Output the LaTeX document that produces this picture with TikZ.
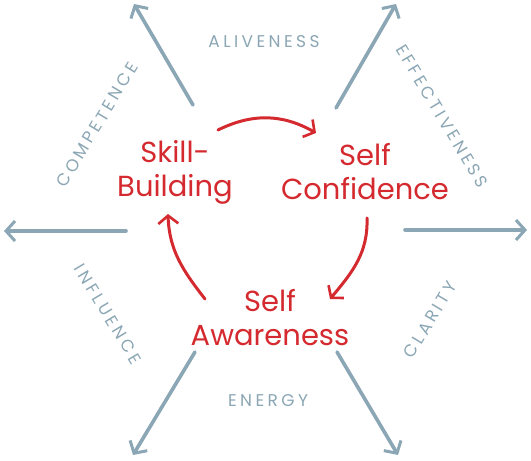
\documentclass[tikz,border=0pt]{standalone}
\usepackage{fontspec}
\setmainfont{Poppins}
\newfontfamily\labelfont[LetterSpace=20]{Poppins}
\usetikzlibrary{arrows.meta}
\definecolor{slate}{HTML}{8BA6B4}
\definecolor{cred}{HTML}{D42A2F}
\tikzset{
  ray/.style={draw=slate, line width=3.6pt, line cap=round, -{Straight Barb[length=9pt,width=20pt,line width=3pt]}},
  cycle/.style={draw=cred, line width=3pt, line cap=round, -{Straight Barb[length=8pt,width=20pt,line width=2.6pt]}},
  quality/.style={text=slate, font=\labelfont\fontsize{17}{17}\selectfont, inner sep=0pt},
  stage/.style={text=cred, font=\fontsize{29}{34}\selectfont, align=center, inner sep=0pt}
}
\begin{document}
\begin{tikzpicture}[x=1pt,y=1pt]
\useasboundingbox (0,0) rectangle (531,461);
% rays
\coordinate (ul0) at (193,356); \coordinate (ul1) at (134,457);
\coordinate (ur0) at (336,353); \coordinate (ur1) at (396,457);
\coordinate (l0) at (126,230);  \coordinate (l1) at (4,230);
\coordinate (r0) at (405,231);  \coordinate (r1) at (527,231);
\coordinate (dl0) at (195,109); \coordinate (dl1) at (133,6);
\coordinate (dr0) at (337,109); \coordinate (dr1) at (398,6);
\draw[ray] (ul0) -- (ul1);
\draw[ray] (ur0) -- (ur1);
\draw[ray] (l0) -- (l1);
\draw[ray] (r0) -- (r1);
\draw[ray] (dl0) -- (dl1);
\draw[ray] (dr0) -- (dr1);
% qualities
\node[quality] (alive) at (264,419) {ALIVENESS};
\node[quality, rotate=-59] (effect) at (442,345) {EFFECTIVENESS};
\node[quality, rotate=59] (compet) at (97,336) {COMPETENCE};
\node[quality, rotate=-59] (influ) at (108,147) {INFLUENCE};
\node[quality, rotate=59] (clar) at (430,141) {CLARITY};
\node[quality] (energy) at (268,60) {ENERGY};
% stages
\node[stage] (skill) at (175,289) {Skill-\\Building};
\node[stage] (conf) at (365,289) {Self\\Confidence};
\node[stage] (aware) at (270,143) {Self\\Awareness};
% cycle arrows
\coordinate (t0) at (218,331); \coordinate (t1) at (316,328);
\coordinate (rr0) at (367,243); \coordinate (rr1) at (330,162);
\coordinate (ll0) at (205,162); \coordinate (ll1) at (168,247);
\draw[cycle] (t0) to[bend left=28] (t1);
\draw[cycle] (rr0) to[out=-88,in=50] (rr1);
\draw[cycle] (ll0) to[out=128,in=-88] (ll1);
\end{tikzpicture}
\end{document}
